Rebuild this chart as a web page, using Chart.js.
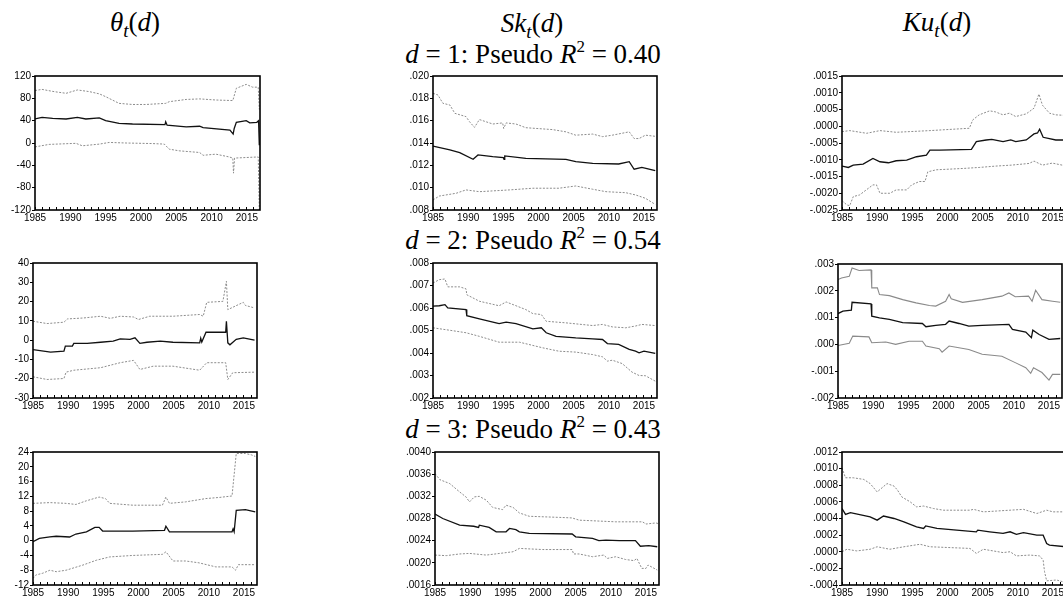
<!DOCTYPE html>
<html>
<head>
<meta charset="utf-8">
<script src="https://cdn.jsdelivr.net/npm/chart.js@4.4.1/dist/chart.umd.min.js"></script>
<style>
  html, body { margin: 0; padding: 0; background: #fff; overflow: hidden; width: 1063px; height: 598px; position: relative; }
  canvas { position: absolute; }
  .ttl { position: absolute; font-family: 'Liberation Serif', 'Times New Roman', serif; font-size: 27px; line-height: 27px;
         white-space: nowrap; transform: translateX(-50%); color: #000; }
  .ttl i { font-style: italic; }
  .ttl sub { font-size: 19px; vertical-align: -6px; line-height: 0; }
  .ttl sup { font-size: 17px; vertical-align: 11px; line-height: 0; }
</style>
</head>
<body>
<div class="ttl" style="left:135px;top:9px"><i>θ</i><sub><i>t</i></sub>(<i>d</i>)</div>
<div class="ttl" style="left:532px;top:10px"><i>Sk</i><sub><i>t</i></sub>(<i>d</i>)</div>
<div class="ttl" style="left:937px;top:9px"><i>Ku</i><sub><i>t</i></sub>(<i>d</i>)</div>
<div class="ttl" style="left:533px;top:41px"><i>d</i> = 1: Pseudo <i>R</i><sup>2</sup> = 0.40</div>
<div class="ttl" style="left:533px;top:227px"><i>d</i> = 2: Pseudo <i>R</i><sup>2</sup> = 0.54</div>
<div class="ttl" style="left:533px;top:416px"><i>d</i> = 3: Pseudo <i>R</i><sup>2</sup> = 0.43</div>

<script>
// ---- x axis: yearly minor ticks, labels every five years ----
const yearTicks = [1985,1986,1987,1988,1989,1990,1991,1992,1993,1994,1995,1996,1997,1998,1999,2000,
                   2001,2002,2003,2004,2005,2006,2007,2008,2009,2010,2011,2012,2013,2014,2015,2016];
const yearLabels = ['1985','1990','1995','2000','2005','2010','2015'];

// ---- y tick labels per panel ----
const thetaTicks1 = ['120','80','40','0','-40','-80','-120'];
const skTicks1    = ['.020','.018','.016','.014','.012','.010','.008'];
const kuTicks1    = ['.0015','.0010','.0005','.0000','-.0005','-.0010','-.0015','-.0020','-.0025'];
const thetaTicks2 = ['40','30','20','10','0','-10','-20','-30'];
const skTicks2    = ['.008','.007','.006','.005','.004','.003','.002'];
const kuTicks2    = ['.003','.002','.001','.000','-.001','-.002'];
const thetaTicks3 = ['24','20','16','12','8','4','0','-4','-8','-12'];
const skTicks3    = ['.0040','.0036','.0032','.0028','.0024','.0020','.0016'];
const kuTicks3    = ['.0012','.0010','.0008','.0006','.0004','.0002','.0000','-.0002','-.0004'];

// ---- series: [year, value]; Mid = estimate, Hi / Lo = band ----
// d = 1
const theta1Hi = [[1985,94],[1986,96],[1987.7,92],[1989.4,89],[1991,95],[1992.7,92],[1994.1,88],[1995,83],[1996.9,71],[1998.8,69],[2000.7,69],[2003.5,71],[2004,74],[2006.4,78],[2008.3,79],[2010.6,77],[2013,76],[2013.5,98],[2014.9,105],[2015.8,100],[2016.6,100],[2016.75,60]];
const theta1Mid = [[1985,43],[1986,46],[1987.5,44],[1989.4,43],[1991,46],[1992.2,43],[1994.1,45],[1995,40],[1996.9,35],[1998.8,34],[2003.4,33],[2003.5,38],[2003.7,32],[2006.4,29],[2008.3,30],[2008.8,27.5],[2012.6,23],[2013.05,16],[2013.2,26],[2013.5,37],[2014.9,40],[2015.4,36],[2016.4,37],[2016.65,40],[2016.75,-4]];
const theta1Lo = [[1985,-7],[1987,-2.5],[1990.8,-0.6],[1991.7,-5],[1994.1,-2],[1995.5,1],[1997.9,0],[2001.6,-1],[2003.3,-2],[2004,-11],[2005.4,-14],[2008.3,-17],[2008.8,-22],[2010.6,-20],[2012.5,-25],[2013,-27],[2013.1,-54],[2013.25,-27],[2014.9,-26],[2016.6,-25],[2016.75,-120]];

const sk1Hi = [[1985,.01845],[1985.7,.0183],[1986.4,.01756],[1987.4,.0174],[1988.1,.01666],[1989.7,.01636],[1990.2,.0159],[1990.9,.0154],[1991.6,.0161],[1993.5,.0157],[1994.9,.0158],[1995.05,.0153],[1995.4,.0158],[1996.8,.0157],[1998.2,.01537],[2002,.0152],[2003.9,.0150],[2005.3,.0147],[2007.7,.0148],[2009.1,.01457],[2010.5,.0147],[2012.9,.0150],[2013.6,.0144],[2014.3,.0144],[2015.2,.0147],[2016.6,.0146]];
const sk1Mid = [[1985,.01373],[1987.4,.01338],[1988.8,.01313],[1990.7,.01254],[1991.4,.01293],[1993.5,.01278],[1995,.0127],[1995.1,.01254],[1995.2,.01284],[1998.2,.01263],[2003.9,.01254],[2005.3,.01233],[2007.7,.01218],[2011.4,.01212],[2012.9,.01233],[2013.6,.01165],[2014.7,.01182],[2016.6,.01152]];
const sk1Lo = [[1985,.0089],[1985.9,.00925],[1988.3,.0095],[1989.7,.0098],[1991.6,.00964],[1995.9,.0098],[1999.2,.00995],[2002.9,.00995],[2005.3,.01015],[2007.7,.00986],[2009.6,.00964],[2012.4,.00955],[2013.8,.00935],[2015.2,.00905],[2016.6,.0085]];

const ku1Hi = [[1985,-.00016],[1986.1,-.00013],[1988.5,-.00021],[1990.4,-.00013],[1992.7,-.00018],[1997.5,-.00013],[2003.1,-.00006],[2003.6,.00019],[2004.5,.00034],[2006,.00046],[2006.8,.00043],[2007.9,.00034],[2008.8,.00039],[2009.7,.00029],[2011.2,.00037],[2012.3,.00054],[2013,.00096],[2013.5,.00063],[2014.5,.00039],[2015.4,.00034],[2016.3,.00033],[2016.8,.00033]];
const ku1Mid = [[1985,-.00119],[1985.9,-.00123],[1986.6,-.00116],[1988,-.00113],[1989.4,-.00096],[1990.4,-.00106],[1991.6,-.00109],[1992.7,-.00103],[1994.2,-.00101],[1995.6,-.00091],[1997,-.00086],[1997.5,-.00071],[1998.9,-.00071],[2003.4,-.00069],[2004.1,-.00046],[2005.5,-.00041],[2006.3,-.00039],[2007.9,-.00046],[2009,-.00041],[2009.7,-.00046],[2011.2,-.00041],[2012.3,-.00023],[2012.8,-.0002],[2013.1,-.00009],[2013.6,-.00033],[2015.4,-.00041],[2016.8,-.00041]];
const ku1Lo = [[1985,-.00222],[1985.7,-.00235],[1986.1,-.00237],[1986.6,-.0021],[1987.5,-.00205],[1989.4,-.00175],[1989.9,-.00175],[1990.4,-.002],[1991.8,-.002],[1992.7,-.0019],[1994.2,-.0019],[1994.9,-.00175],[1996,-.00165],[1996.8,-.00165],[1997.2,-.00136],[1998.4,-.0013],[2002.2,-.00126],[2004.5,-.00123],[2006.8,-.00119],[2009.1,-.00116],[2011.6,-.00111],[2012.3,-.00104],[2013.5,-.00116],[2014.9,-.0011],[2016.3,-.00116],[2016.8,-.00115]];

// d = 2
const theta2Hi = [[1985,9.8],[1987,8.6],[1989.4,9.3],[1989.9,11],[1992.2,11.5],[1994.6,12.4],[1996,11.3],[1997.4,12.4],[1999.3,12],[2000,10.7],[2001.6,12.4],[2004.9,12.4],[2008.7,13.3],[2009.2,12.4],[2009.7,19.6],[2012,20.1],[2012.5,30.5],[2012.7,15.8],[2013.9,17.9],[2014.9,19.6],[2015.2,18],[2016.5,16.7]];
const theta2Mid = [[1985,-4.9],[1987.5,-6.2],[1989.4,-5.7],[1989.6,-3.1],[1990.6,-3.1],[1990.8,-1.7],[1992.7,-1.7],[1994.6,-1.1],[1996.4,-0.5],[1997.4,0.7],[1998.8,0.4],[1999.5,1.2],[2000.2,-1.7],[2001.2,-1.1],[2003.1,-0.5],[2004.9,-1.1],[2008.7,-1.4],[2008.85,1],[2009,-1],[2009.6,4.1],[2012.4,4.1],[2012.5,9.8],[2012.7,-1.4],[2013,-2.4],[2013.9,0.4],[2014.9,1.2],[2016.5,0]];
const theta2Lo = [[1985,-19],[1987,-20.4],[1989.4,-19.9],[1989.7,-16.6],[1990.8,-15.6],[1994.6,-14.3],[1997.4,-11.7],[1999.3,-10.5],[2000.2,-15.2],[2002.1,-13.5],[2004.9,-13.5],[2008.7,-15.6],[2009.7,-11.7],[2012.4,-11.7],[2012.7,-20.4],[2013.4,-16.9],[2016.5,-16.6]];

const sk2Hi = [[1985,.00711],[1985.9,.00726],[1986.7,.00729],[1987.1,.00694],[1988.8,.00694],[1989.7,.00685],[1989.8,.00659],[1991.6,.0063],[1994.4,.0061],[1995.4,.00627],[1996.8,.0061],[1998.2,.00593],[1999.2,.00575],[2000.4,.00571],[2001.1,.00541],[2003.9,.00534],[2007.7,.00522],[2009.1,.00527],[2010.5,.00516],[2012.4,.00512],[2013.8,.0052],[2014.7,.00527],[2016.6,.00522]];
const sk2Mid = [[1985,.00608],[1985.9,.0061],[1986.7,.00615],[1987.1,.006],[1989.7,.00593],[1989.8,.00566],[1991.6,.00552],[1994.4,.00531],[1995.4,.00537],[1996.8,.00531],[1999.2,.00507],[2000.4,.00512],[2001.1,.0049],[2002.5,.00474],[2005.3,.00467],[2007.7,.00463],[2009.1,.0046],[2009.8,.00442],[2011.4,.00438],[2012.9,.00416],[2013.8,.00408],[2014.3,.00401],[2015,.00408],[2016.6,.00398]];
const sk2Lo = [[1985,.00512],[1987.4,.00501],[1989.7,.0049],[1991.6,.00474],[1994.4,.00448],[1997.3,.00448],[2000.6,.00423],[2002.9,.00408],[2005.3,.00404],[2007.7,.00393],[2009.1,.00383],[2009.8,.00364],[2010.5,.00368],[2011.9,.00353],[2013.3,.00315],[2014.3,.003],[2015.2,.00299],[2016.6,.00275]];

const ku2Hi = [[1985,.00242],[1985.5,.00248],[1986.6,.00254],[1987,.00285],[1988,.00276],[1989.7,.00278],[1989.8,.00211],[1990.6,.00211],[1990.9,.00186],[1992.3,.00182],[1994.2,.00167],[1996.1,.00155],[1998,.00145],[1998.9,.00143],[2000.3,.00161],[2000.8,.00186],[2001.1,.0017],[2002.7,.00157],[2005.5,.00167],[2008.3,.0018],[2009.3,.00192],[2010.2,.00178],[2012.1,.0018],[2012.6,.00161],[2013.1,.00202],[2014,.00167],[2015.5,.00161],[2016.6,.00157]];
const ku2Mid = [[1985,.00115],[1985.7,.00124],[1986.9,.00128],[1987,.00157],[1989.7,.00151],[1989.8,.00105],[1990.9,.00099],[1992.3,.00093],[1994.2,.00081],[1997,.00078],[1997.5,.00066],[1998.9,.00071],[2000.3,.00075],[2000.8,.00087],[2002.2,.00078],[2003.6,.00068],[2005.5,.00071],[2009.3,.00075],[2009.8,.00056],[2011.7,.00046],[2012.5,.00025],[2012.7,.00053],[2013.6,.00037],[2015,.00019],[2016.6,.00022]];
const ku2Lo = [[1985,-.00004],[1986.6,.00004],[1987.1,.00031],[1989.4,.00028],[1989.8,.00006],[1991.8,.00009],[1993.2,0],[1995.1,.00012],[1997,.00012],[1997.5,-.00006],[1999.4,-.00016],[1999.8,-.00029],[2000.8,-.00006],[2003.6,-.00019],[2005.5,-.00037],[2008.3,-.00044],[2010.2,-.00068],[2011.7,-.00087],[2012.4,-.00108],[2012.8,-.00087],[2014,-.00105],[2015,-.00133],[2015.5,-.00112],[2016.6,-.00112]];

// d = 3
const theta3Hi = [[1985,10.1],[1987.4,10.3],[1989.7,10.1],[1991.1,9.8],[1992.6,10.8],[1994.4,11.8],[1995.3,11.4],[1995.9,10.1],[1999.2,9.6],[2003.4,9.6],[2003.9,11.8],[2004.4,10.1],[2006.7,10.5],[2009.6,11.4],[2011.5,11.7],[2013.3,12.1],[2013.9,23.6],[2015.2,23.6],[2016.1,23.2],[2016.6,22.8]];
const theta3Mid = [[1985,-0.3],[1985.9,0.6],[1987.4,1],[1988.3,1.2],[1990.2,1],[1991.1,1.8],[1992.6,2.4],[1993.8,3.6],[1994.4,3.6],[1994.9,2.6],[1999.2,2.6],[2003.7,2.8],[2003.9,3.9],[2004.4,2.4],[2008.6,2.4],[2013.3,2.4],[2013.45,3.2],[2013.6,2.4],[2013.9,8.2],[2015.2,8.4],[2016.6,7.8]];
const theta3Lo = [[1985,-10.2],[1985.4,-9.3],[1986.4,-8.8],[1987.4,-8],[1988.3,-8.4],[1989.7,-8],[1992.1,-6.6],[1994,-5.3],[1995.9,-4.4],[1999.2,-4],[2003.4,-3.7],[2003.9,-3],[2004.9,-5.5],[2006.7,-5.5],[2008.6,-6],[2011,-7.1],[2013.3,-7.1],[2013.8,-8],[2014.2,-6.5],[2016.6,-6.5]];

const sk3Hi = [[1985,.00361],[1985.7,.0035],[1987.1,.00343],[1988.5,.00328],[1989.4,.00319],[1989.9,.0031],[1990.6,.00319],[1991.3,.0032],[1992.3,.00313],[1993.2,.003],[1994.6,.00296],[1995.1,.00304],[1996.1,.003],[1997,.0029],[1998.4,.00284],[2002.7,.00282],[2004.5,.00281],[2005.5,.00277],[2010.7,.00274],[2014.5,.00274],[2015,.0027],[2016.4,.00272],[2016.7,.00271]];
const sk3Mid = [[1985,.00288],[1986.1,.0028],[1988.5,.00268],[1990.5,.00266],[1991.2,.00264],[1991.3,.00268],[1992.7,.00264],[1993.7,.00256],[1995.1,.00256],[1995.6,.00262],[1996.5,.0026],[1997,.00256],[1998.4,.00253],[2004.5,.00252],[2005,.00247],[2007.4,.00244],[2008.3,.0024],[2009.3,.00241],[2011.2,.0024],[2013.5,.0024],[2014.2,.0023],[2015.4,.00231],[2016.6,.00229]];
const sk3Lo = [[1985,.00214],[1986.6,.00213],[1988.5,.00216],[1989.9,.00217],[1992.3,.00214],[1994.2,.00217],[1996.1,.0022],[1997,.00226],[2000.3,.00224],[2004.5,.00224],[2004.7,.00216],[2005.5,.00216],[2007.4,.00211],[2009,.00214],[2009.5,.00208],[2010.7,.00211],[2012.1,.00206],[2013.3,.00204],[2013.7,.00208],[2014.4,.0019],[2015,.0019],[2015.3,.00196],[2016.6,.00187]];

const ku3Hi = [[1985,.00101],[1985.5,.00089],[1986.6,.00089],[1988.1,.00087],[1989,.00082],[1990,.00072],[1991.4,.00082],[1992.4,.00079],[1992.9,.00074],[1993.5,.00066],[1994.7,.0006],[1995.6,.00054],[1996.6,.00055],[1998,.00052],[1999.4,.0005],[2003.2,.0005],[2003.7,.00051],[2005.1,.00048],[2007,.00049],[2008.9,.0005],[2010.8,.00051],[2012.7,.00046],[2014.1,.0005],[2015,.00048],[2016.8,.00048]];
const ku3Mid = [[1985,.00052],[1985.5,.00045],[1986.2,.00047],[1989,.00042],[1990,.00038],[1990.9,.00043],[1992.4,.0004],[1993.8,.00036],[1995.6,.0003],[1996.6,.00028],[1996.9,.00031],[1998.5,.00028],[2001.3,.00026],[2004.1,.00024],[2004.3,.00026],[2006,.00024],[2007.9,.00022],[2008.9,.00024],[2009.8,.00021],[2010.8,.00023],[2012.7,.0002],[2013.6,.0002],[2014.1,.0001],[2014.5,.00008],[2016.8,.00006]];
const ku3Lo = [[1985,0],[1985.7,.00003],[1987.1,.00001],[1989,.00003],[1990,.00006],[1991.8,.00003],[1993.8,.00006],[1996.1,.00009],[1997.5,.00006],[2003.2,.00004],[2004.1,-.00002],[2005.1,.00003],[2007.9,-.00001],[2008.9,0],[2009.8,-.00005],[2011.7,-.00004],[2013.1,-.00005],[2013.6,-.0001],[2013.8,-.00024],[2014.1,-.00035],[2015.5,-.00034],[2016.8,-.00037]];

// ---- panel layout: plot box [left, top, width, height] in page pixels ----
const panels = [
  { box: [35, 76, 225, 134],   ticks: thetaTicks1, mid: theta1Mid, hi: theta1Hi, lo: theta1Lo, band: 'dot' },
  { box: [433, 76, 224, 134],  ticks: skTicks1,    mid: sk1Mid,    hi: sk1Hi,    lo: sk1Lo,    band: 'dot' },
  { box: [842, 76, 224, 134],  ticks: kuTicks1,    mid: ku1Mid,    hi: ku1Hi,    lo: ku1Lo,    band: 'dot' },
  { box: [33, 263, 224, 135],  ticks: thetaTicks2, mid: theta2Mid, hi: theta2Hi, lo: theta2Lo, band: 'dot' },
  { box: [433, 263, 224, 135], ticks: skTicks2,    mid: sk2Mid,    hi: sk2Hi,    lo: sk2Lo,    band: 'dot' },
  { box: [838, 264, 224, 134], ticks: kuTicks2,    mid: ku2Mid,    hi: ku2Hi,    lo: ku2Lo,    band: 'solid' },
  { box: [33, 452, 224, 133],  ticks: thetaTicks3, mid: theta3Mid, hi: theta3Hi, lo: theta3Lo, band: 'dot' },
  { box: [435, 452, 224, 133], ticks: skTicks3,    mid: sk3Mid,    hi: sk3Hi,    lo: sk3Lo,    band: 'dot' },
  { box: [842, 452, 224, 133], ticks: kuTicks3,    mid: ku3Mid,    hi: ku3Hi,    lo: ku3Lo,    band: 'dot' }
];

const PAD_L = 45, PAD_T = 10, PAD_R = 10, PAD_B = 20;
const tickFont = { family: "'Liberation Sans', Arial, sans-serif", size: 10 };

// closed frame around the plot area
const framePlugin = {
  id: 'frame',
  afterDraw(chart) {
    const { ctx, chartArea: a } = chart;
    ctx.save();
    ctx.strokeStyle = '#000';
    ctx.lineWidth = 1.6;
    ctx.strokeRect(a.left, a.top, a.right - a.left, a.bottom - a.top);
    ctx.restore();
  }
};

function toPts(arr) { return arr.map(p => ({ x: p[0], y: p[1] })); }

function zeroPad(s) { s.paddingTop = 0; s.paddingBottom = 0; s.paddingLeft = 0; s.paddingRight = 0; }

panels.forEach(p => {
  const [bx, by, bw, bh] = p.box;
  const cv = document.createElement('canvas');
  const W = PAD_L + bw + PAD_R, H = PAD_T + bh + PAD_B;
  cv.width = W; cv.height = H;
  cv.style.left = (bx - PAD_L) + 'px';
  cv.style.top = (by - PAD_T) + 'px';
  cv.style.width = W + 'px';
  cv.style.height = H + 'px';
  document.body.appendChild(cv);

  const yVals = p.ticks.map(Number).sort((a, b) => a - b);
  const bandStyle = p.band === 'solid'
    ? { borderColor: '#8a8a8a', borderWidth: 1.1, borderDash: [] }
    : { borderColor: '#8c8c8c', borderWidth: 1, borderDash: [2, 1.5] };

  new Chart(cv, {
    type: 'line',
    data: {
      datasets: [
        { data: toPts(p.mid), borderColor: '#111', borderWidth: 1.3 },
        Object.assign({ data: toPts(p.hi) }, bandStyle),
        Object.assign({ data: toPts(p.lo) }, bandStyle)
      ]
    },
    options: {
      responsive: false,
      animation: false,
      devicePixelRatio: 1,
      layout: { padding: { top: PAD_T, right: PAD_R, left: 0, bottom: 0 } },
      elements: { point: { radius: 0 }, line: { tension: 0 } },
      plugins: { legend: { display: false }, tooltip: { enabled: false } },
      events: [],
      scales: {
        x: {
          type: 'linear', min: 1985, max: 2016.85,
          afterBuildTicks: s => { s.ticks = yearTicks.map(v => ({ value: v })); },
          afterFit: s => { s.height = PAD_B; zeroPad(s); },
          ticks: {
            autoSkip: false, maxRotation: 0, minRotation: 0, padding: 5, color: '#000', font: tickFont,
            callback: v => (yearLabels.includes(String(v)) ? String(v) : '')
          },
          grid: { drawOnChartArea: false, tickLength: -3, color: '#000', lineWidth: 1 },
          border: { display: false }
        },
        y: {
          type: 'linear', min: yVals[0], max: yVals[yVals.length - 1],
          afterBuildTicks: s => { s.ticks = yVals.map(v => ({ value: v })); },
          afterFit: s => { s.width = PAD_L; zeroPad(s); },
          ticks: {
            autoSkip: false, padding: 1, color: '#000', font: tickFont,
            callback: v => p.ticks.find(l => Number(l) === v) || ''
          },
          grid: { drawOnChartArea: false, tickLength: 3, color: '#000', lineWidth: 1 },
          border: { display: false }
        }
      }
    },
    plugins: [framePlugin]
  });
});
</script>
</body>
</html>
